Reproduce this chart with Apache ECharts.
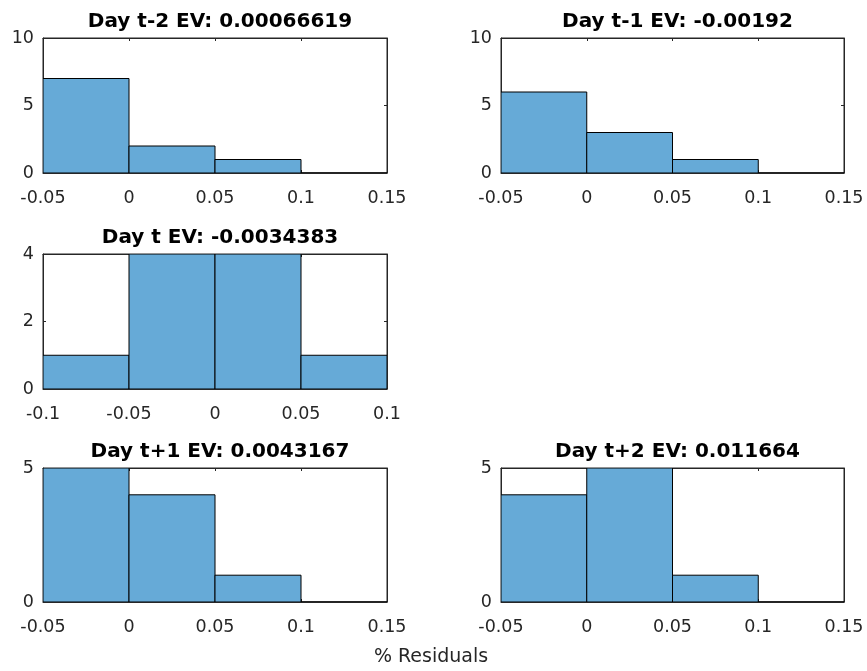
<!DOCTYPE html>
<html><head><meta charset="utf-8">
<script src="https://cdn.jsdelivr.net/npm/echarts@6/dist/echarts.min.js"></script>
<style>html,body{margin:0;padding:0;background:#fff}#c{width:867px;height:671px}</style>
</head><body><div id="c"></div>
<script>
const titles = ['Day t-2 EV: 0.00066619','Day t-1 EV: -0.00192','Day t EV: -0.0034383','Day t+1 EV: 0.0043167','Day t+2 EV: 0.011664'];
const edgesA = [-0.05, 0, 0.05, 0.1, 0.15];
const edgesB = [-0.1, -0.05, 0, 0.05, 0.1];
const countsTm2 = [7, 2, 1, 0];
const countsTm1 = [6, 3, 1, 0];
const countsT = [1, 4, 4, 1];
const countsTp1 = [5, 4, 1, 0];
const countsTp2 = [4, 5, 1, 0];
const yMaxes = [10, 10, 4, 5, 5];
const yIntervals = [5, 5, 2, 5, 5];
const xLabel = '% Residuals';

const panels = [
  {edges: edgesA, counts: countsTm2},
  {edges: edgesA, counts: countsTm1},
  {edges: edgesB, counts: countsT},
  {edges: edgesA, counts: countsTp1},
  {edges: edgesA, counts: countsTp2}
];
// layout boxes [left, top, right, bottom]
const boxes = [
  [43, 38, 387, 173],
  [501, 38, 844, 173],
  [43, 254, 387, 389],
  [43, 468, 387, 602],
  [501, 468, 844, 602]
];
const axisColor = '#262626';
const fontFam = '"DejaVu Sans", sans-serif';
const fill = '#66aad7';
const tickFont = 17.5;

const grid = [], xAxis = [], yAxis = [], series = [], title = [];
panels.forEach((p, i) => {
  const b = boxes[i];
  grid.push({left: b[0], top: b[1], width: b[2]-b[0], height: b[3]-b[1], show: true, borderColor: axisColor, borderWidth: 1, backgroundColor: '#fff'});
  const xmin = p.edges[0], xmax = p.edges[p.edges.length-1];
  const tickCommon = {show: true, inside: true, length: 3, lineStyle: {color: axisColor}};
  const lineCommon = {show: true, onZero: false, lineStyle: {color: axisColor}};
  xAxis.push({type: 'value', gridIndex: i, min: xmin, max: xmax, interval: 0.05, position: 'bottom',
    axisLine: lineCommon, axisTick: tickCommon, splitLine: {show: false},
    axisLabel: {color: axisColor, fontFamily: fontFam, fontSize: tickFont, margin: 16, showMinLabel: true, showMaxLabel: true}});
  xAxis.push({type: 'value', gridIndex: i, min: xmin, max: xmax, interval: 0.05, position: 'top',
    axisLine: lineCommon, axisTick: tickCommon, splitLine: {show: false}, axisLabel: {show: false}});
  yAxis.push({type: 'value', gridIndex: i, min: 0, max: yMaxes[i], interval: yIntervals[i], position: 'left',
    axisLine: lineCommon, axisTick: tickCommon, splitLine: {show: false},
    axisLabel: {color: axisColor, fontFamily: fontFam, fontSize: tickFont, margin: 9, padding: [6, 0, 0, 0]}});
  yAxis.push({type: 'value', gridIndex: i, min: 0, max: yMaxes[i], interval: yIntervals[i], position: 'right',
    axisLine: lineCommon, axisTick: tickCommon, splitLine: {show: false}, axisLabel: {show: false}});
  const data = p.counts.map((c, k) => [p.edges[k], p.edges[k+1], c]);
  series.push({type: 'custom', xAxisIndex: 2*i, yAxisIndex: 2*i, data: data, clip: true,
    renderItem: function(params, api) {
      const p0 = api.coord([api.value(0), 0]);
      const p1 = api.coord([api.value(1), api.value(2)]);
      return {type: 'rect', shape: {x: p0[0], y: p1[1], width: p1[0]-p0[0], height: p0[1]-p1[1]},
        style: {fill: fill, stroke: '#000', lineWidth: 1}};
    }});
  title.push({text: titles[i], left: (b[0]+b[2])/2, top: b[1]-31, textAlign: 'center',
    textStyle: {fontFamily: fontFam, fontWeight: 'bold', fontSize: 20, color: '#000'}});
});
title.push({text: xLabel, left: 426, top: 643, textAlign: 'center',
  textStyle: {fontFamily: fontFam, fontWeight: 'normal', fontSize: 19, color: axisColor}});

const chart = echarts.init(document.getElementById('c'), null, {renderer: 'canvas'});
chart.setOption({animation: false, backgroundColor: '#fff', title, grid, xAxis, yAxis, series});
</script></body></html>
